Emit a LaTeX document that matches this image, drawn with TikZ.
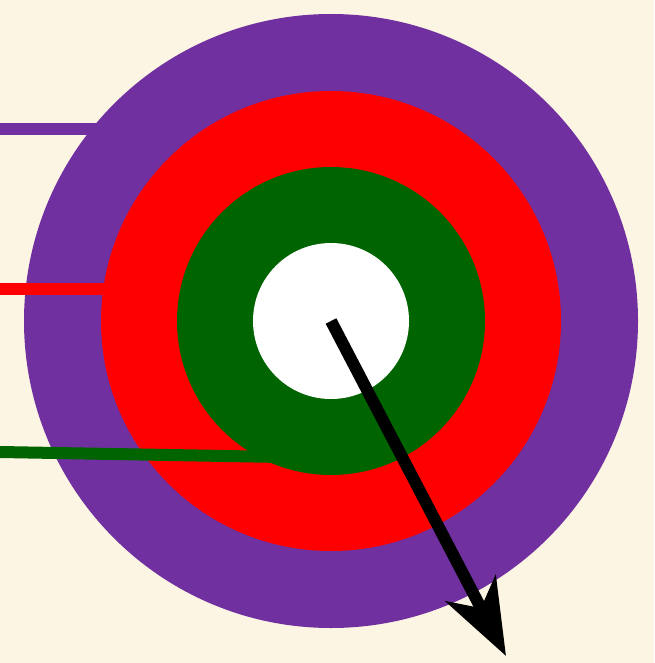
\documentclass[tikz,border=0pt]{standalone}
\usetikzlibrary{arrows.meta}
\definecolor{bgcream}{HTML}{FDF5E3}
\definecolor{ringpurple}{HTML}{7030A0}
\definecolor{ringgreen}{HTML}{006400}
\begin{document}
\begin{tikzpicture}[x=1pt,y=-1pt,line join=round]
			\fill[bgcream] (0,0) rectangle (654,663);
			\useasboundingbox (0,0) rectangle (654,663);
			\path
			(331,321) coordinate (O)
			(0,129) coordinate (P1) (140,129) coordinate (P2)
			(0,289) coordinate (R1) (140,289) coordinate (R2)
			(0,452) coordinate (G1) (282,457) coordinate (G2)
			(506,656) coordinate (T)
			;
			\foreach \r/\c in {307/ringpurple,230/red,154/ringgreen,78/white}
			\fill[\c] (O) circle (\r);
			\foreach \a/\b/\c in {P1/P2/ringpurple,R1/R2/red,G1/G2/ringgreen}
			\draw[line width=12pt,\c] (\a)--(\b);
			\draw[line width=12pt,-{Stealth[length=76pt,width=56pt,inset=22pt]}] (O)--(T);
		\end{tikzpicture}
\end{document}
